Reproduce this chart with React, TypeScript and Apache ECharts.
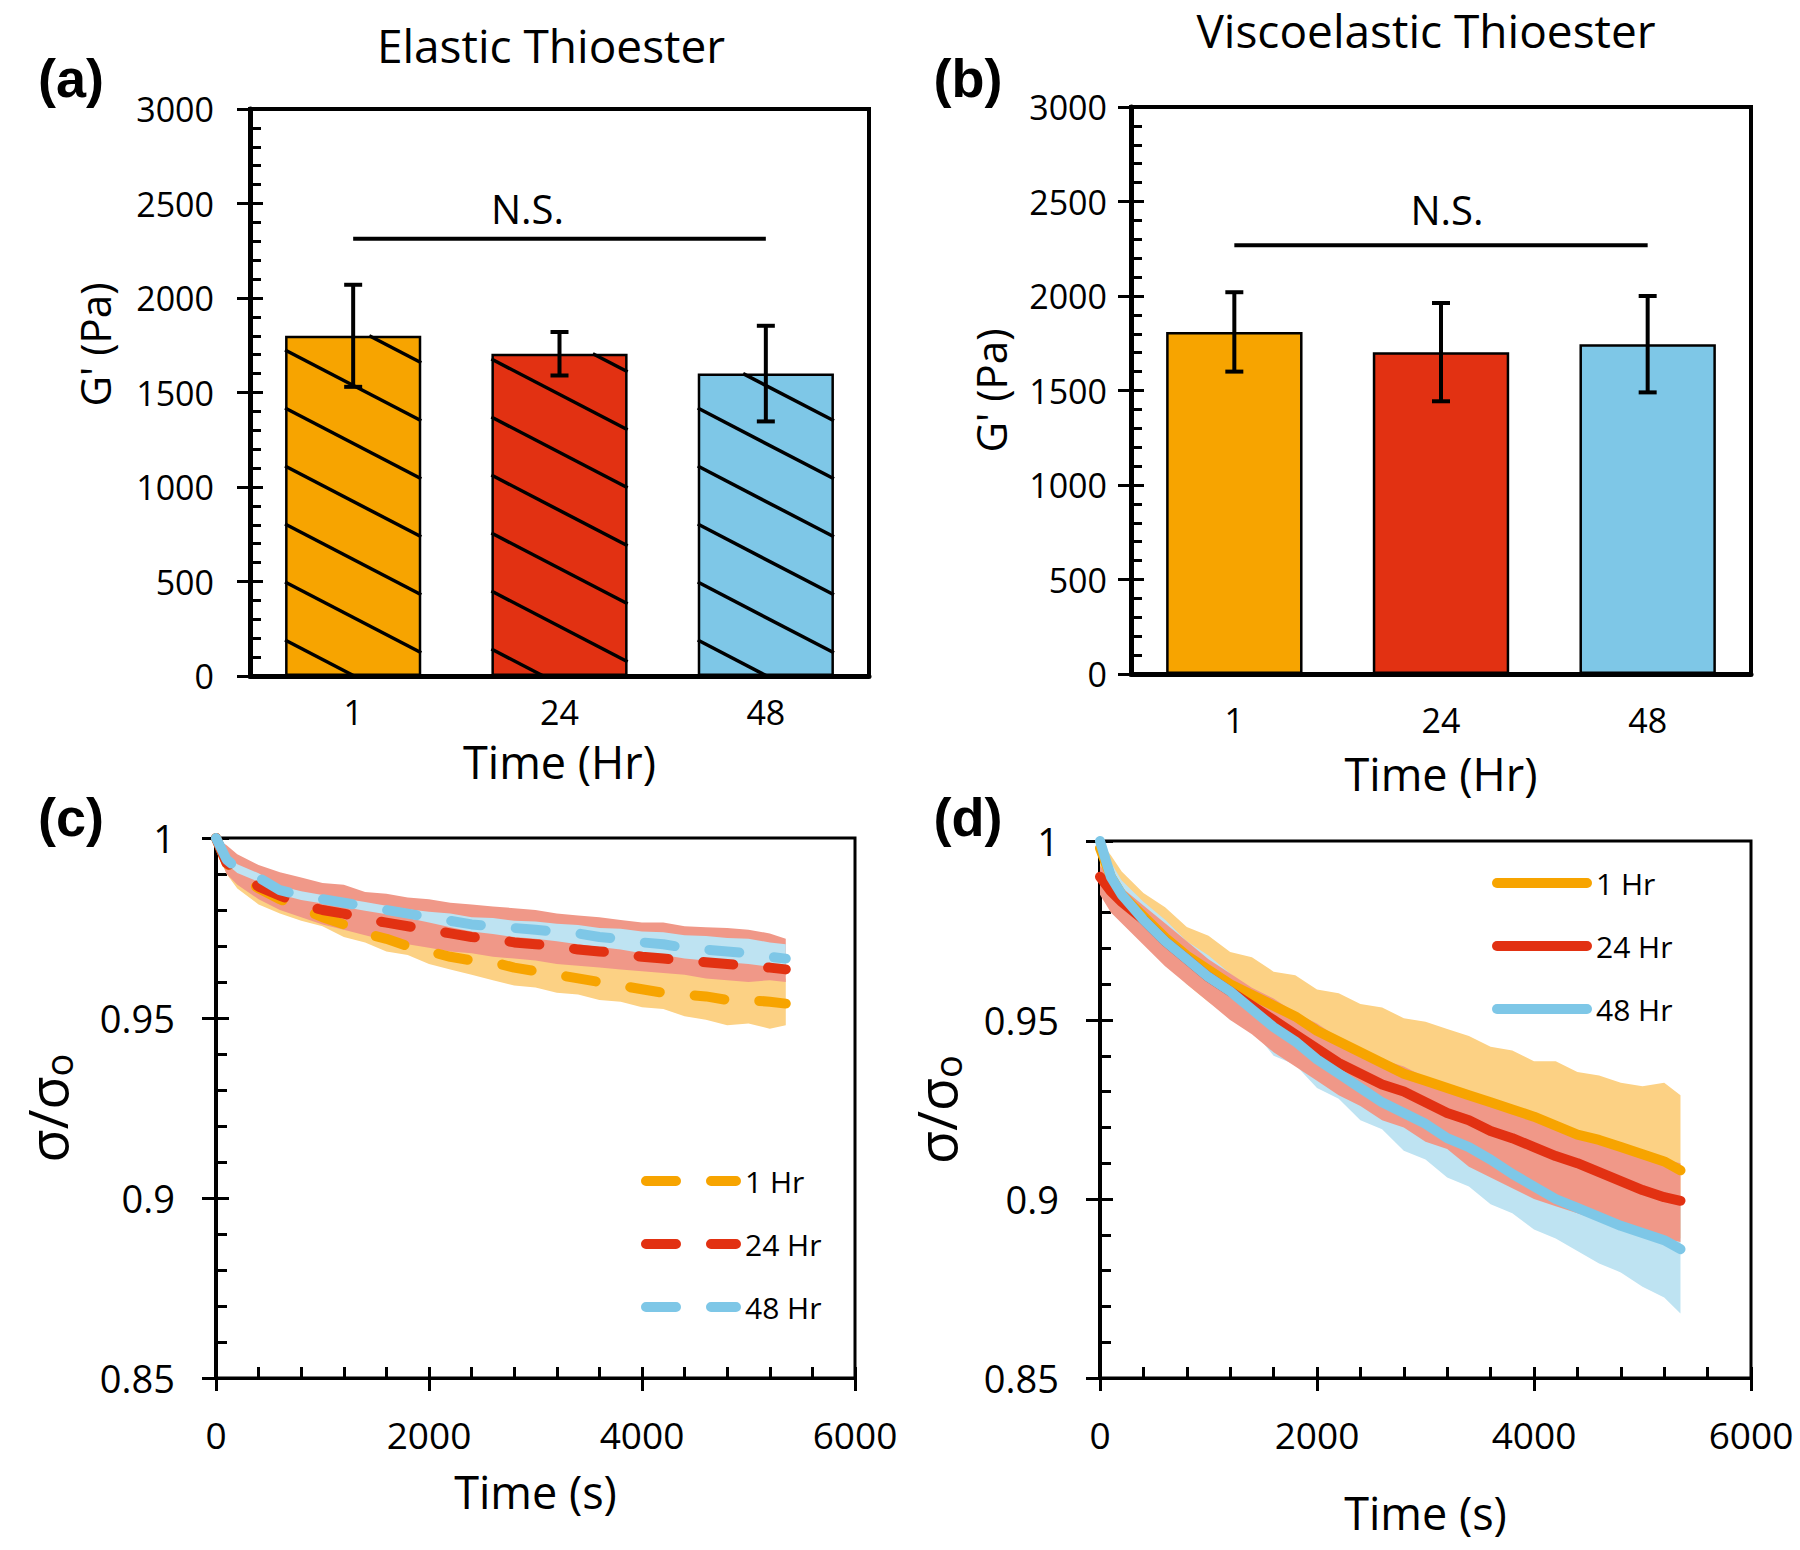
import React, { useEffect, useRef } from 'react';
import * as echarts from 'echarts';

const FONT = '"Open Sans", "Liberation Sans", sans-serif';

// ---------- bar panels (a), (b) ----------
const hours = ['1', '24', '48'];
const elasticG = [1800, 1705, 1600];
const elasticErr = [270, 115, 253];
const viscoG = [1810, 1703, 1745];
const viscoErr = [210, 260, 255];
const nsLevelElastic = 2313;
const nsLevelVisco = 2268;
const barColors = ['#F7A400', '#E23112', '#7EC7E7'];

// ---------- stress relaxation panels (c), (d) ----------
const relaxT = [0, 100, 200, 400, 600, 800, 1000, 1200, 1400, 1600, 1800, 2000, 2200, 2400, 2600, 2800,
  3000, 3200, 3400, 3600, 3800, 4000, 4200, 4400, 4600, 4800, 5000, 5200, 5350];

// (c) elastic
const c1Mean = [1.0, 0.993, 0.990, 0.986, 0.983, 0.9805, 0.978, 0.976, 0.9735, 0.972, 0.970, 0.9685, 0.967, 0.966, 0.9655, 0.964,
  0.963, 0.962, 0.961, 0.960, 0.959, 0.958, 0.957, 0.9565, 0.956, 0.955, 0.955, 0.9545, 0.954];
const c1Hi = [1.0, 0.996, 0.993, 0.990, 0.987, 0.985, 0.983, 0.981, 0.979, 0.978, 0.976, 0.975, 0.974, 0.973, 0.972, 0.971,
  0.970, 0.969, 0.968, 0.967, 0.966, 0.965, 0.964, 0.963, 0.963, 0.962, 0.962, 0.961, 0.961];
const c1Lo = [0.997, 0.990, 0.986, 0.9815, 0.979, 0.977, 0.9755, 0.9725, 0.971, 0.9685, 0.9675, 0.965, 0.9635, 0.962, 0.9605, 0.959,
  0.9585, 0.957, 0.9565, 0.955, 0.9545, 0.953, 0.9525, 0.9505, 0.9495, 0.948, 0.9485, 0.947, 0.948];
const c24Mean = [1.0, 0.993, 0.991, 0.9865, 0.984, 0.9815, 0.980, 0.979, 0.9775, 0.9765, 0.9755, 0.9745, 0.9735, 0.9725, 0.972, 0.971,
  0.9705, 0.970, 0.969, 0.9685, 0.968, 0.967, 0.9665, 0.966, 0.9655, 0.965, 0.9645, 0.964, 0.9635];
const c24Hi = [1.0, 0.998, 0.9955, 0.9925, 0.9905, 0.989, 0.9875, 0.987, 0.985, 0.9845, 0.9835, 0.983, 0.982, 0.9815, 0.981, 0.9805,
  0.980, 0.979, 0.9785, 0.978, 0.9772, 0.9765, 0.9765, 0.9755, 0.9752, 0.975, 0.9745, 0.9735, 0.972];
const c24Lo = [0.997, 0.990, 0.987, 0.983, 0.980, 0.978, 0.976, 0.9745, 0.973, 0.9715, 0.9705, 0.9695, 0.9685, 0.968, 0.967, 0.9665,
  0.966, 0.965, 0.9645, 0.964, 0.9635, 0.963, 0.9625, 0.962, 0.961, 0.9605, 0.960, 0.9605, 0.960];
const c48Mean = [1.0, 0.994, 0.9915, 0.989, 0.9855, 0.984, 0.983, 0.982, 0.981, 0.980, 0.979, 0.978, 0.977, 0.976, 0.9755, 0.975,
  0.9745, 0.974, 0.9735, 0.9725, 0.972, 0.971, 0.9705, 0.9695, 0.969, 0.9685, 0.968, 0.967, 0.9665];
const c48Hi = [1.0, 0.9952, 0.9927, 0.9902, 0.9867, 0.9852, 0.9842, 0.9832, 0.9822, 0.9812, 0.9802, 0.9795, 0.979, 0.978, 0.9778, 0.977,
  0.9768, 0.9762, 0.9758, 0.975, 0.9748, 0.974, 0.9738, 0.973, 0.9728, 0.9722, 0.972, 0.971, 0.9705];
const c48Lo = [0.9995, 0.9928, 0.9903, 0.9878, 0.9843, 0.9828, 0.9818, 0.9808, 0.9798, 0.9788, 0.9778, 0.9765, 0.9752, 0.974, 0.9733, 0.9725,
  0.972, 0.9713, 0.9705, 0.9697, 0.969, 0.968, 0.9675, 0.9665, 0.966, 0.9655, 0.965, 0.9642, 0.9638];

// (d) viscoelastic
const d1Mean = [0.998, 0.990, 0.985, 0.979, 0.973, 0.968, 0.964, 0.960, 0.957, 0.954, 0.951, 0.947, 0.944, 0.941, 0.938, 0.935,
  0.933, 0.931, 0.929, 0.927, 0.925, 0.923, 0.9205, 0.918, 0.9165, 0.9145, 0.9125, 0.9105, 0.908];
const d1Hi = [1.0, 0.996, 0.9915, 0.9855, 0.9815, 0.976, 0.9735, 0.969, 0.9675, 0.9635, 0.9625, 0.9585, 0.9575, 0.9545, 0.9535, 0.9505,
  0.9495, 0.9475, 0.9455, 0.9425, 0.9415, 0.9385, 0.9385, 0.9355, 0.9345, 0.9325, 0.9315, 0.9325, 0.929];
const d1Lo = [0.990, 0.985, 0.979, 0.972, 0.966, 0.960, 0.955, 0.951, 0.947, 0.944, 0.940, 0.936, 0.932, 0.929, 0.925, 0.922,
  0.919, 0.916, 0.913, 0.911, 0.908, 0.906, 0.903, 0.901, 0.899, 0.896, 0.894, 0.891, 0.889];
const d24Mean = [0.990, 0.986, 0.983, 0.978, 0.972, 0.967, 0.962, 0.958, 0.954, 0.950, 0.946, 0.942, 0.938, 0.935, 0.932, 0.930,
  0.927, 0.924, 0.922, 0.919, 0.917, 0.9145, 0.912, 0.910, 0.9075, 0.905, 0.9025, 0.9005, 0.8995];
const d24Hi = [0.993, 0.990, 0.987, 0.982, 0.977, 0.972, 0.967, 0.963, 0.959, 0.956, 0.952, 0.949, 0.945, 0.942, 0.939, 0.937,
  0.934, 0.932, 0.930, 0.928, 0.925, 0.923, 0.921, 0.919, 0.917, 0.915, 0.913, 0.911, 0.910];
const d24Lo = [0.985, 0.980, 0.977, 0.971, 0.965, 0.960, 0.955, 0.950, 0.946, 0.941, 0.937, 0.933, 0.929, 0.926, 0.922, 0.920,
  0.916, 0.914, 0.909, 0.906, 0.903, 0.900, 0.898, 0.896, 0.894, 0.892, 0.8905, 0.889, 0.888];
const d48Mean = [1.0, 0.990, 0.985, 0.978, 0.972, 0.967, 0.962, 0.958, 0.953, 0.948, 0.944, 0.939, 0.935, 0.931, 0.927, 0.924,
  0.921, 0.917, 0.9145, 0.911, 0.907, 0.9035, 0.900, 0.8975, 0.895, 0.8925, 0.8905, 0.8885, 0.886];
const d48Hi = [1.0, 0.994, 0.989, 0.983, 0.978, 0.972, 0.968, 0.963, 0.958, 0.954, 0.950, 0.946, 0.942, 0.938, 0.935, 0.932,
  0.929, 0.926, 0.923, 0.921, 0.918, 0.915, 0.912, 0.909, 0.907, 0.905, 0.903, 0.902, 0.900];
const d48Lo = [0.999, 0.986, 0.981, 0.972, 0.967, 0.960, 0.9565, 0.950, 0.9475, 0.940, 0.9375, 0.931, 0.928, 0.922, 0.9195, 0.9135,
  0.911, 0.906, 0.9035, 0.8985, 0.896, 0.8915, 0.889, 0.8855, 0.882, 0.8795, 0.8755, 0.8725, 0.868];

const lineColors = { h1: '#F7A400', h24: '#E23112', h48: '#7EC7E7' };
const bandColors = { h1: '#FCD184', h24: '#F09888', h48: '#BEE3F2' };

const BLACK = '#000';
const plainNum = (v: number) => String(v);

function barXAxis(gi: number, margin: number, nameGap: number) {
  return {
    type: 'category', gridIndex: gi, data: hours, position: 'bottom',
    axisLine: { onZero: false, lineStyle: { color: BLACK, width: 5 } },
    axisTick: { show: false },
    axisLabel: { margin, fontSize: 34, lineHeight: 28, color: BLACK, fontFamily: FONT },
    splitLine: { show: false },
    name: 'Time (Hr)', nameLocation: 'middle', nameGap,
    nameTextStyle: { fontSize: 45, lineHeight: 40, color: BLACK, fontFamily: FONT },
  };
}
function barYMain(gi: number, margin: number, nameGap: number, pad: number[]) {
  return {
    type: 'value', gridIndex: gi, min: 0, max: 3000, interval: 500, position: 'left', offset: 0,
    axisLine: { show: true, onZero: false, lineStyle: { color: BLACK, width: 5 } },
    axisTick: { show: true, length: 13, lineStyle: { color: BLACK, width: 3 } },
    axisLabel: { margin, fontSize: 34, color: BLACK, fontFamily: FONT, formatter: plainNum },
    splitLine: { show: false },
    name: "G' (Pa)", nameLocation: 'middle', nameGap,
    nameTextStyle: { fontSize: 42, color: BLACK, fontFamily: FONT, padding: pad },
  };
}
function barYMinor(gi: number) {
  return {
    type: 'value', gridIndex: gi, min: 0, max: 3000, interval: 500, position: 'left', offset: 0,
    axisLine: { show: false, onZero: false }, axisLabel: { show: false }, splitLine: { show: false },
    axisTick: { show: true, inside: true, length: 13, lineStyle: { color: BLACK, width: 3 } },
    minorTick: { show: true, splitNumber: 5, length: 11, lineStyle: { color: BLACK, width: 3 } },
  };
}
function relXMain(gi: number, nameGap: number) {
  return {
    type: 'value', gridIndex: gi, min: 0, max: 6000, interval: 2000, position: 'bottom', offset: 0,
    axisLine: { onZero: false, lineStyle: { color: BLACK, width: 3 } },
    axisTick: { length: 13, lineStyle: { color: BLACK, width: 3 } },
    axisLabel: { margin: 38, fontSize: 37, color: BLACK, fontFamily: FONT, formatter: plainNum },
    splitLine: { show: false },
    name: 'Time (s)', nameLocation: 'middle', nameGap,
    nameTextStyle: { fontSize: 45, color: BLACK, fontFamily: FONT },
  };
}
function relXMinor(gi: number) {
  return {
    type: 'value', gridIndex: gi, min: 0, max: 6000, interval: 2000, position: 'bottom', offset: 0,
    axisLine: { show: false, onZero: false }, axisLabel: { show: false }, splitLine: { show: false },
    axisTick: { show: true, inside: true, length: 11, lineStyle: { color: BLACK, width: 3 } },
    minorTick: { show: true, splitNumber: 5, length: 11, lineStyle: { color: BLACK, width: 3 } },
  };
}
function relYMain(gi: number, nameGap: number) {
  return {
    type: 'value', gridIndex: gi, min: 0.85, max: 1, interval: 0.05, position: 'left', offset: 0,
    axisLine: { onZero: false, lineStyle: { color: BLACK, width: 4 } },
    axisTick: { length: 14, lineStyle: { color: BLACK, width: 3 } },
    axisLabel: { margin: 41, fontSize: 38, color: BLACK, fontFamily: FONT },
    splitLine: { show: false },
    name: '{a|σ/σ}{b|o}', nameLocation: 'middle', nameGap,
    nameTextStyle: {
      rich: {
        a: { fontSize: 54, lineHeight: 60, color: BLACK, fontFamily: FONT },
        b: { fontSize: 38, lineHeight: 38, verticalAlign: 'bottom', color: BLACK, fontFamily: FONT },
      },
    },
  };
}
function relYMinor(gi: number) {
  return {
    type: 'value', gridIndex: gi, min: 0.85, max: 1, interval: 0.05, position: 'left', offset: 0,
    axisLine: { show: false, onZero: false }, axisLabel: { show: false }, splitLine: { show: false },
    axisTick: { show: true, inside: true, length: 13, lineStyle: { color: BLACK, width: 3 } },
    minorTick: { show: true, splitNumber: 5, length: 11, lineStyle: { color: BLACK, width: 3 } },
  };
}

function barSeries(xi: number, yi: number, values: number[]) {
  return {
    type: 'bar', xAxisIndex: xi, yAxisIndex: yi, barWidth: '66%', z: 2,
    itemStyle: { borderColor: BLACK, borderWidth: 2.5 },
    data: values.map((v, i) => ({ value: v, itemStyle: { color: barColors[i], borderColor: BLACK, borderWidth: 2.5 } })),
  };
}

function hatchSeries(xi: number, yi: number, values: number[]) {
  const phases = [36, 27, 36];
  return {
    type: 'custom', xAxisIndex: xi, yAxisIndex: yi, z: 3, silent: true,
    encode: { x: 0, y: 1 },
    data: values.map((v, i) => [i, v]),
    renderItem: (params: any, api: any) => {
      const idx = api.value(0);
      const val = api.value(1);
      const top = api.coord([idx, val]);
      const base = api.coord([idx, 0]);
      const bw = api.size([1, 0])[0] * 0.66;
      const left = top[0] - bw / 2;
      const right = top[0] + bw / 2;
      const yTop = top[1];
      const yBot = base[1];
      const s = 0.52;
      const gap = 58;
      const phase = phases[idx] ?? 36;
      const children: any[] = [];
      for (let k = 0; k < 40; k++) {
        const yk = yBot - phase - k * gap;
        const x0 = Math.max(left, left + (yTop - yk) / s);
        const x1 = Math.min(right, left + (yBot - yk) / s);
        if (x1 - x0 > 0.5) {
          children.push({
            type: 'line',
            shape: { x1: x0, y1: yk + s * (x0 - left), x2: x1, y2: yk + s * (x1 - left) },
            style: { stroke: BLACK, lineWidth: 3.5 },
          });
        }
      }
      return { type: 'group', children };
    },
  };
}

function errSeries(xi: number, yi: number, mean: number[], err: number[]) {
  return {
    type: 'custom', xAxisIndex: xi, yAxisIndex: yi, z: 5, silent: true,
    encode: { x: 0, y: 1 },
    data: mean.map((m, i) => [i, m, err[i]]),
    renderItem: (params: any, api: any) => {
      const i = api.value(0), m = api.value(1), e = api.value(2);
      const hi = api.coord([i, m + e]);
      const lo = api.coord([i, m - e]);
      const c = 9;
      const st = { stroke: BLACK, lineWidth: 4 };
      return {
        type: 'group', children: [
          { type: 'line', shape: { x1: hi[0], y1: hi[1], x2: lo[0], y2: lo[1] }, style: st },
          { type: 'line', shape: { x1: hi[0] - c, y1: hi[1], x2: hi[0] + c, y2: hi[1] }, style: st },
          { type: 'line', shape: { x1: lo[0] - c, y1: lo[1], x2: lo[0] + c, y2: lo[1] }, style: st },
        ],
      };
    },
  };
}

function nsSeries(xi: number, yi: number, level: number, dx: number, dy: number) {
  return {
    type: 'custom', xAxisIndex: xi, yAxisIndex: yi, z: 5, silent: true,
    encode: { x: 0, y: 2 },
    data: [[0, 2, level]],
    renderItem: (params: any, api: any) => {
      const a = api.coord([api.value(0), api.value(2)]);
      const b = api.coord([api.value(1), api.value(2)]);
      return {
        type: 'group', children: [
          { type: 'line', shape: { x1: a[0], y1: a[1], x2: b[0], y2: b[1] }, style: { stroke: BLACK, lineWidth: 4 } },
          {
            type: 'text', x: (a[0] + b[0]) / 2 + dx, y: a[1] - dy,
            style: {
              text: 'N.S.', fill: BLACK, fontSize: 40, fontFamily: FONT,
              align: 'center', verticalAlign: 'middle', textAlign: 'center', textVerticalAlign: 'middle',
            },
          },
        ],
      };
    },
  };
}

// shaded band between lo and hi, drawn as one polygon through the axis scales
function bandSeries(key: string, xi: number, yi: number, lo: number[], hi: number[], color: string) {
  return {
    type: 'custom', name: key, xAxisIndex: xi, yAxisIndex: yi, z: 2, silent: true,
    encode: { x: 0, y: [1, 2] },
    data: relaxT.map((t, i) => [t, lo[i], hi[i]]),
    renderItem: (params: any, api: any) => {
      if (params.dataIndexInside !== 0) return null;
      const n = params.dataInsideLength;
      const pts: number[][] = [];
      for (let j = 0; j < n; j++) pts.push(api.coord([api.value(0, j), api.value(2, j)]));
      for (let j = n - 1; j >= 0; j--) pts.push(api.coord([api.value(0, j), api.value(1, j)]));
      return { type: 'polygon', shape: { points: pts }, style: { fill: color, stroke: 'none' } };
    },
  };
}

function meanSeries(name: string, xi: number, yi: number, vals: number[], color: string, dashed: boolean) {
  return {
    type: 'line', name, xAxisIndex: xi, yAxisIndex: yi, symbol: 'none', z: 4,
    itemStyle: { color },
    lineStyle: { color, width: 10, type: dashed ? [30, 35] : 'solid', cap: 'round', join: 'round' },
    data: relaxT.map((t, i) => [t, vals[i]]),
  };
}

function legendFor(names: string[], left: number, top: number) {
  return {
    data: names, orient: 'vertical', left, top, itemWidth: 90, itemHeight: 12, itemGap: 33,
    selectedMode: false,
    itemStyle: { opacity: 0 },
    lineStyle: { width: 10 },
    textStyle: { fontSize: 30, lineHeight: 30, color: BLACK, fontFamily: FONT, padding: [0, 0, 0, 4] },
    formatter: (n: string) => n.slice(2),
  };
}

function buildOption(): any {
  const panelLabel = (text: string, x: number, y: number) => ({
    type: 'text', x, y,
    style: {
      text, fill: BLACK, font: 'bold 54px "Liberation Sans", Arial, sans-serif',
      align: 'center', verticalAlign: 'middle', textAlign: 'center', textVerticalAlign: 'middle',
    },
  });
  return {
    animation: false,
    backgroundColor: '#fff',
    textStyle: { fontFamily: FONT },
    title: [
      {
        text: 'Elastic Thioester', left: 551, top: 22, textAlign: 'center', padding: 0,
        textStyle: { fontSize: 46, fontWeight: 'normal', color: BLACK, fontFamily: FONT, lineHeight: 46 },
      },
      {
        text: 'Viscoelastic Thioester', left: 1426, top: 9, textAlign: 'center', padding: 0,
        textStyle: { fontSize: 46, fontWeight: 'normal', color: BLACK, fontFamily: FONT, lineHeight: 42 },
      },
    ],
    graphic: [
      panelLabel('(a)', 71, 78),
      panelLabel('(b)', 968, 78),
      panelLabel('(c)', 71, 817),
      panelLabel('(d)', 968, 817),
    ],
    legend: [
      legendFor(['c:1 Hr', 'c:24 Hr', 'c:48 Hr'], 636, 1161),
      legendFor(['d:1 Hr', 'd:24 Hr', 'd:48 Hr'], 1487, 863),
    ],
    grid: [
      { left: 250, top: 109, width: 619, height: 567, show: true, borderColor: BLACK, borderWidth: 4, backgroundColor: 'transparent' },
      { left: 1131, top: 107, width: 620, height: 567, show: true, borderColor: BLACK, borderWidth: 4, backgroundColor: 'transparent' },
      { left: 216, top: 838, width: 639, height: 540, show: true, borderColor: BLACK, borderWidth: 3, backgroundColor: 'transparent' },
      { left: 1100, top: 841, width: 651, height: 537, show: true, borderColor: BLACK, borderWidth: 3, backgroundColor: 'transparent' },
    ],
    xAxis: [
      barXAxis(0, 22, 65),
      barXAxis(1, 32, 79),
      relXMain(2, 91),
      relXMinor(2),
      relXMain(3, 112),
      relXMinor(3),
    ],
    yAxis: [
      barYMain(0, 36, 135, [0, 0, 0, 96]),
      barYMinor(0),
      barYMain(1, 24, 120, [0, 0, 0, 0]),
      barYMinor(1),
      relYMain(2, 139),
      relYMinor(2),
      relYMain(3, 134),
      relYMinor(3),
    ],
    series: [
      barSeries(0, 0, elasticG),
      hatchSeries(0, 0, elasticG),
      errSeries(0, 0, elasticG, elasticErr),
      nsSeries(0, 0, nsLevelElastic, -32, 30),
      barSeries(1, 2, viscoG),
      errSeries(1, 2, viscoG, viscoErr),
      nsSeries(1, 2, nsLevelVisco, 6, 36),
      // (c) bands then dashed means
      bandSeries('c1', 2, 4, c1Lo, c1Hi, bandColors.h1),
      bandSeries('c24', 2, 4, c24Lo, c24Hi, bandColors.h24),
      bandSeries('c48', 2, 4, c48Lo, c48Hi, bandColors.h48),
      meanSeries('c:1 Hr', 2, 4, c1Mean, lineColors.h1, true),
      meanSeries('c:24 Hr', 2, 4, c24Mean, lineColors.h24, true),
      meanSeries('c:48 Hr', 2, 4, c48Mean, lineColors.h48, true),
      // (d) bands then solid means
      bandSeries('d1', 4, 6, d1Lo, d1Hi, bandColors.h1),
      bandSeries('d48', 4, 6, d48Lo, d48Hi, bandColors.h48),
      bandSeries('d24', 4, 6, d24Lo, d24Hi, bandColors.h24),
      meanSeries('d:1 Hr', 4, 6, d1Mean, lineColors.h1, false),
      meanSeries('d:24 Hr', 4, 6, d24Mean, lineColors.h24, false),
      meanSeries('d:48 Hr', 4, 6, d48Mean, lineColors.h48, false),
    ],
  };
}

export default function App() {
  const ref = useRef<HTMLDivElement>(null);
  useEffect(() => {
    if (!ref.current) return;
    const chart = echarts.init(ref.current, null, { renderer: 'svg' });
    chart.setOption(buildOption());
    return () => chart.dispose();
  }, []);
  return (
    <div
      ref={ref}
      style={{ position: 'absolute', left: 0, top: 0, width: 1800, height: 1550, background: '#fff' }}
    />
  );
}
